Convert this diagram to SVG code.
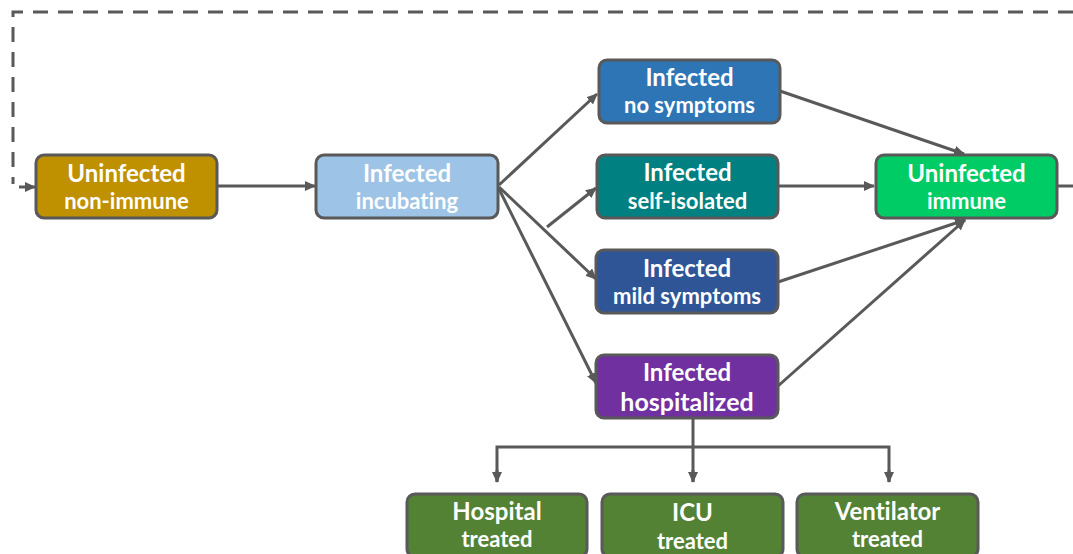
<svg xmlns="http://www.w3.org/2000/svg" width="1073" height="554" viewBox="0 0 1073 554">
<style>
.box{stroke:#595959;stroke-width:3}
text{font-family:Lato,"Liberation Sans",sans-serif;font-weight:bold;fill:#fff;text-anchor:middle;font-variant-ligatures:none}
.t1{font-size:24px}
.t2{font-size:22px}
.t3{font-size:25px}
.c{stroke:#595959;stroke-width:3;fill:none}
</style>
<defs>
<marker id="ah" markerUnits="userSpaceOnUse" markerWidth="11" markerHeight="10" refX="10" refY="5" orient="auto">
<path d="M0,0 L11,5 L0,10 z" fill="#595959"/>
</marker>
</defs>
<g id="connectors">
<path class="c" d="M1073,12 L13,12 L13,184" stroke-dasharray="15 10"/>
<line class="c" x1="19" y1="187" x2="35" y2="187" marker-end="url(#ah)"/>
<line class="c" x1="217" y1="186" x2="315" y2="186" marker-end="url(#ah)"/>
<line class="c" x1="499" y1="185" x2="597" y2="94" marker-end="url(#ah)"/>
<line class="c" x1="547" y1="227" x2="596" y2="188" marker-end="url(#ah)"/>
<line class="c" x1="499" y1="187" x2="596" y2="279" marker-end="url(#ah)"/>
<line class="c" x1="499" y1="189" x2="596" y2="383" marker-end="url(#ah)"/>
<line class="c" x1="780" y1="91" x2="964" y2="154" marker-end="url(#ah)"/>
<line class="c" x1="777" y1="186" x2="874" y2="186" marker-end="url(#ah)"/>
<line class="c" x1="778" y1="282" x2="965" y2="220" marker-end="url(#ah)"/>
<line class="c" x1="778" y1="386" x2="965" y2="220" marker-end="url(#ah)"/>
<line class="c" x1="1057" y1="186" x2="1073" y2="186"/>
<path class="c" d="M693,418 L693,482"/>
<path class="c" d="M497,482 L497,447 L889,447 L889,482"/>
<line class="c" x1="693" y1="470" x2="693" y2="482" marker-end="url(#ah)"/>
<line class="c" x1="497" y1="470" x2="497" y2="482" marker-end="url(#ah)"/>
<line class="c" x1="889" y1="470" x2="889" y2="482" marker-end="url(#ah)"/>
</g>
<g id="uninfected-nonimmune">
<rect class="box" x="36" y="155" width="181" height="63" rx="8" fill="#BF9000"/>
<text class="t1" x="126.5" y="182">Uninfected</text>
<text class="t2" x="126.5" y="209">non-immune</text>
</g>
<g id="infected-incubating">
<rect class="box" x="316" y="155" width="182" height="63" rx="8" fill="#9DC3E6"/>
<text class="t1" x="407" y="182">Infected</text>
<text class="t2" x="407" y="209">incubating</text>
</g>
<g id="infected-nosymptoms">
<rect class="box" x="599" y="60" width="181" height="63" rx="8" fill="#2E75B6"/>
<text class="t1" x="689.5" y="86">Infected</text>
<text class="t2" x="689.5" y="113">no symptoms</text>
</g>
<g id="infected-selfisolated">
<rect class="box" x="597" y="155" width="181" height="63" rx="8" fill="#008080"/>
<text class="t1" x="687.5" y="181">Infected</text>
<text class="t2" x="687.5" y="209">self-isolated</text>
</g>
<g id="infected-mild">
<rect class="box" x="596" y="250" width="182" height="63" rx="8" fill="#2F5597"/>
<text class="t1" x="687" y="277">Infected</text>
<text class="t2" x="687" y="304">mild symptoms</text>
</g>
<g id="infected-hospitalized">
<rect class="box" x="596" y="355" width="182" height="63" rx="8" fill="#7030A0"/>
<text class="t1" x="687" y="381">Infected</text>
<text class="t3" x="687" y="411">hospitalized</text>
</g>
<g id="uninfected-immune">
<rect class="box" x="876" y="155" width="181" height="63" rx="8" fill="#00CC66"/>
<text class="t1" x="966.5" y="182">Uninfected</text>
<text class="t2" x="966.5" y="209">immune</text>
</g>
<g id="hospital-treated">
<rect class="box" x="407" y="494" width="180" height="63" rx="8" fill="#548235"/>
<text class="t1" x="497" y="520">Hospital</text>
<text class="t2" x="497" y="547">treated</text>
</g>
<g id="icu-treated">
<rect class="box" x="602" y="494" width="181" height="63" rx="8" fill="#548235"/>
<text class="t1" x="692.5" y="521">ICU</text>
<text class="t2" x="692.5" y="549">treated</text>
</g>
<g id="ventilator-treated">
<rect class="box" x="797" y="494" width="181" height="63" rx="8" fill="#548235"/>
<text class="t1" x="887.5" y="520">Ventilator</text>
<text class="t2" x="887.5" y="547">treated</text>
</g>
</svg>
